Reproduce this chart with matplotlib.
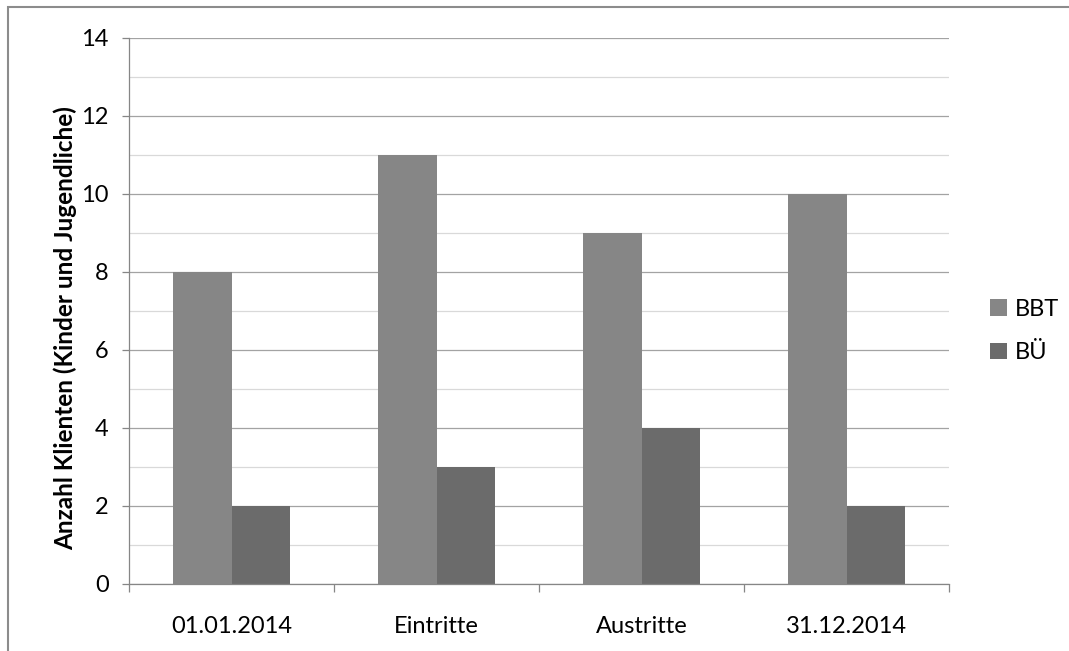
import matplotlib.pyplot as plt
from matplotlib.patches import Rectangle
import numpy as np

categories = ["01.01.2014", "Eintritte", "Austritte", "31.12.2014"]
bbt = [8, 11, 9, 10]
bue = [2, 3, 4, 2]
series_names = ["BBT", "BÜ"]
ylabel = "Anzahl Klienten (Kinder und Jugendliche)"

plt.rcParams['font.family'] = ['Lato', 'DejaVu Sans']

W, H = 1069, 651
fig = plt.figure(figsize=(W / 100, H / 100), dpi=100)
ax = fig.add_axes([129 / W, (H - 584) / H, (949 - 129) / W, (584 - 38) / H])

# chart frame (top and left edges visible)
fig.patches.append(Rectangle((8 / W, -0.2), 1.2, 1.2 - 7 / H, transform=fig.transFigure,
                             fill=False, edgecolor='#8c8c8c', linewidth=1.5, zorder=0))

x = np.arange(len(categories))
w = 1 / 3.5
ax.bar(x - w / 2, bbt, w, color='#868686', label=series_names[0], zorder=3)
ax.bar(x + w / 2, bue, w, color='#6b6b6b', label=series_names[1], zorder=3)

ax.set_xlim(-0.5, len(categories) - 0.5)
ax.set_ylim(0, 14)

# gridlines: even values darker, odd values lighter
ax.set_yticks(np.arange(0, 15, 2))
ax.set_yticks(np.arange(1, 15, 2), minor=True)
ax.grid(axis='y', which='major', color='#a3a3a3', linewidth=0.9, zorder=0)
ax.grid(axis='y', which='minor', color='#d9d9d9', linewidth=0.9, zorder=0)
ax.tick_params(axis='y', which='minor', length=0)
ax.tick_params(axis='y', which='major', length=5, width=0.9, color='#868686',
               labelsize=17, pad=9.5)

# category boundaries as ticks, names centred between them
ax.set_xticks(np.arange(-0.5, len(categories), 1.0))
ax.set_xticklabels([])
ax.set_xticks(x, minor=True)
ax.set_xticklabels(categories, minor=True, fontsize=17)
ax.tick_params(axis='x', which='major', length=6, width=0.9, color='#868686')
ax.tick_params(axis='x', which='minor', length=0, pad=23)

for side in ['top', 'right']:
    ax.spines[side].set_visible(False)
for side in ['left', 'bottom']:
    ax.spines[side].set_color('#868686')
    ax.spines[side].set_linewidth(0.9)
    ax.spines[side].set_zorder(4)

ax.set_ylabel(ylabel, fontsize=17.5, fontweight='bold')
ax.yaxis.set_label_coords((65 - 129) / 820, (584 - 328) / 546)
ax.yaxis.label.set_verticalalignment('center')

fig.legend(loc='center left', bbox_to_anchor=(990 / W, 1 - 331 / H), frameon=False,
           fontsize=17, handlelength=0.72, handleheight=0.72, handletextpad=0.35,
           labelspacing=0.95, borderpad=0, borderaxespad=0)

fig.savefig('out.png', dpi=100)
